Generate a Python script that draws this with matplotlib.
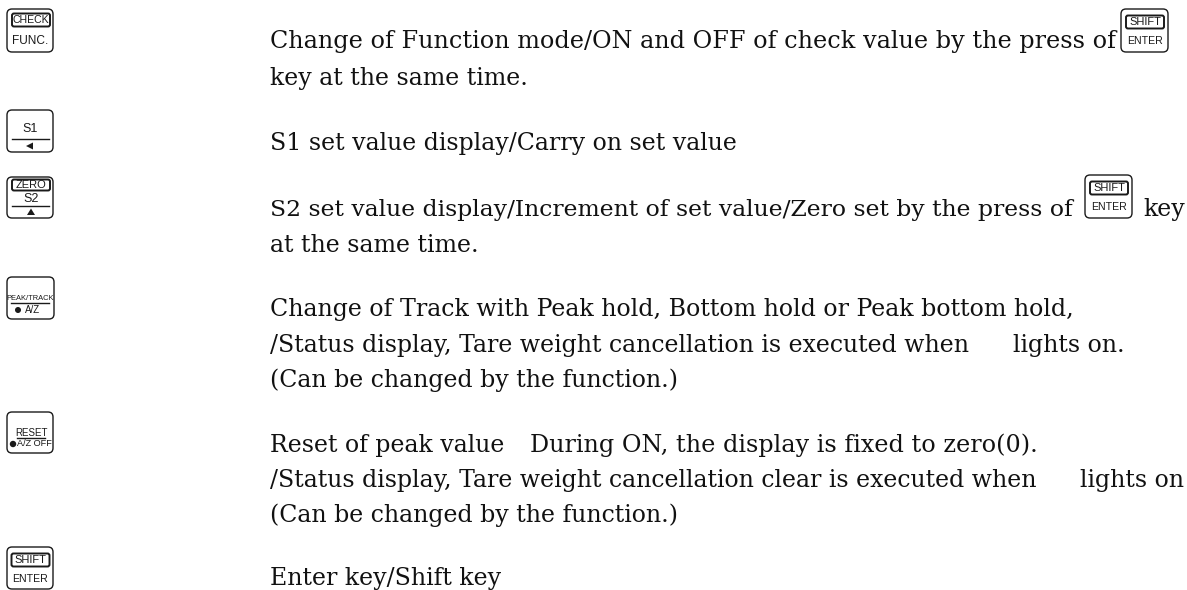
import matplotlib
matplotlib.use('Agg')
import matplotlib.pyplot as plt
from matplotlib.patches import FancyBboxPatch, Circle, Polygon

W, H = 1187, 590
SERIF = ['DejaVu Serif', 'Liberation Serif']
SANS = ['Liberation Sans', 'DejaVu Sans']
INK = '#1a1a1a'

# Description lines
line_y = [48, 85, 150, 216, 252, 316, 352, 387, 452, 487, 522, 585]
line_size = [17.2, 17, 17, 16.9, 17, 17.1, 17.05, 17, 17, 17.05, 17, 17]
line_text = [
    'Change of Function mode/ON and OFF of check value by the press of',
    'key at the same time.',
    'S1 set value display/Carry on set value',
    'S2 set value display/Increment of set value/Zero set by the press of',
    'at the same time.',
    'Change of Track with Peak hold, Bottom hold or Peak bottom hold,',
    '/Status display, Tare weight cancellation is executed when',
    '(Can be changed by the function.)',
    'Reset of peak value',
    '/Status display, Tare weight cancellation clear is executed when',
    '(Can be changed by the function.)',
    'Enter key/Shift key',
]
extra_x = [1143, 1013, 1080, 530]
extra_y = [216, 352, 487, 452]
extra_size = [17, 17, 17, 17.2]
extra_text = ['key', 'lights on.', 'lights on', 'During ON, the display is fixed to zero(0).']

fig = plt.figure(figsize=(W / 100, H / 100), dpi=100)
ax = fig.add_axes([0, 0, 1, 1])
ax.set_xlim(0, W)
ax.set_ylim(H, 0)
ax.axis('off')


def key_box(x, y, w=46, h=42):
    ax.add_patch(FancyBboxPatch((x, y), w, h, boxstyle='round,pad=0,rounding_size=5',
                                fc='white', ec=INK, lw=1.0))


def label(x, y, s, size=8):
    ax.text(x, y, s, family=SANS, fontsize=size, ha='center', va='center', color=INK)


def top_word(cx, cy, s, w=38, h=13, size=7.6):
    ax.add_patch(FancyBboxPatch((cx - w / 2, cy - h / 2), w, h, boxstyle='round,pad=0,rounding_size=2',
                                fc='white', ec=INK, lw=1.4))
    label(cx, cy, s, size)


def shift_enter(x, y, w=46, h=42):
    key_box(x, y, w, h)
    top_word(x + w / 2 + 0.5, y + 13, 'SHIFT', size=8)
    label(x + w / 2, y + 32, 'ENTER', 7.6)


# CHECK / FUNC.
key_box(7, 9, 46, 43)
top_word(31, 20, 'CHECK')
label(30, 41, 'FUNC.', 8.6)

# S1
key_box(7, 110)
label(30, 129, 'S1', 9)
ax.plot([12, 49], [139, 139], color=INK, lw=1.0)
ax.add_patch(Polygon([[26, 146], [33, 142.5], [33, 149.5]], fc=INK, ec='none'))

# ZERO / S2
key_box(7, 177, 46, 41)
top_word(31, 185, 'ZERO', h=11, size=8)
label(31, 199, 'S2', 9)
ax.plot([12, 49], [206, 206], color=INK, lw=1.0)
ax.add_patch(Polygon([[31, 208.5], [27, 215], [35, 215]], fc=INK, ec='none'))

# PEAK/TRACK
key_box(7, 277, 47, 42)
label(30, 298, 'PEAK/TRACK', 5.4)
ax.plot([11, 49], [303, 303], color=INK, lw=1.0)
ax.add_patch(Circle((18, 310), 3, fc=INK, ec='none'))
label(33, 310, 'A/Z', 7)

# RESET
key_box(7, 412, 46, 41)
label(31, 433, 'RESET', 7)
ax.plot([17, 45], [438, 438], color=INK, lw=1.0)
ax.add_patch(Circle((13, 444), 3.2, fc=INK, ec='none'))
label(34, 444, 'A/Z OFF', 6.6)

# SHIFT / ENTER, left column and inline
shift_enter(7, 547)
shift_enter(1121, 9, 47, 43)
shift_enter(1085, 175, 47, 43)

# Descriptions
for y, s, fs in zip(line_y, line_text, line_size):
    ax.text(270, y, s, family=SERIF, fontsize=fs, ha='left', va='baseline', color='#111111')
for x, y, s, fs in zip(extra_x, extra_y, extra_text, extra_size):
    ax.text(x, y, s, family=SERIF, fontsize=fs, ha='left', va='baseline', color='#111111')

fig.savefig('out.png', dpi=100)
